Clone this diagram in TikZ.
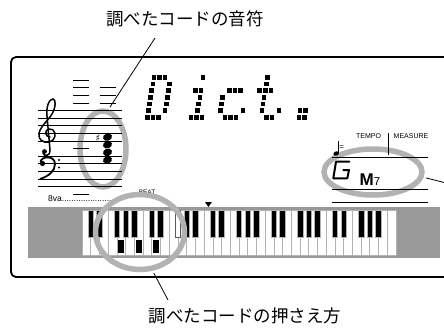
\documentclass[tikz,border=0pt]{standalone}
\usepackage{fontspec}
\setmainfont{Liberation Sans}
\newfontfamily\jpfont{Noto Sans CJK JP}
\newfontfamily\symfont{DejaVu Sans}
\usetikzlibrary{shapes.geometric}
\definecolor{ringgray}{gray}{0.7}
\definecolor{bargray}{gray}{0.6}

\begin{document}
\begin{tikzpicture}[x=1pt,y=-1pt,
  ring/.style={ellipse, draw=ringgray, line width=5.5pt, inner sep=0pt},
  leader/.style={line width=0.8pt},
  staffline/.style={line width=0.7pt},
  tiny/.style={font=\fontsize{7}{7}\selectfont, inner sep=0pt},
  caption/.style={font=\jpfont\fontsize{17.5}{17.5}\selectfont, inner sep=0pt}]
  \useasboundingbox (0,0) rectangle (444,327);
  \clip (0,0) rectangle (444,327);
  \def\wk{8.72}
  \def\dx{5.6}
  \def\dy{6.67}
  \node[caption] (lblNotes) at (185,18.5) {調べたコードの音符};
  \node[caption] (lblKeys) at (245,316) {調べたコードの押さえ方};
  \draw[line width=1.8pt, rounded corners=5pt] (11,57) rectangle (470,277);
  % staff
  \node[ring, minimum width=46pt, minimum height=76pt] (ringNotes) at (103,149) {};
  \foreach \y in {110.5,118.1,125.7,133.3,140.9,156.1,163.7,171.3,178.9,186.5}
    \draw[staffline] (38,\y) -- (122,\y);
  \foreach \y in {80.1,87.7,95.3,102.9,148.5,194.1}
    \draw[staffline] (73,\y) -- ++(16,0);
  \foreach \y in {87.7,95.3,102.9}
    \draw[staffline] (100,\y) -- ++(16,0);
  \draw[line width=1.5pt, line cap=round] (50,137)
    .. controls (45,137) and (44,130) .. (49,129)
    .. controls (55,128) and (57,136) .. (53,140)
    .. controls (49,144) and (40,143) .. (39,136)
    .. controls (38,128) and (48,121) .. (52,114)
    .. controls (56,107) and (56,99) .. (53,99)
    .. controls (49,99) and (46,107) .. (47,116)
    -- (50,150)
    .. controls (51,156) and (44,157) .. (43,153);
  \fill (44.5,151.5) circle[radius=2.4];
  \fill (42.5,163.5) circle[radius=2.6];
  \draw[line width=1.8pt] (40.5,162) .. controls (41,156) and (55,155) .. (55,164)
    .. controls (55,171) and (49,176) .. (40,179);
  \fill (59,160) circle[radius=1.2] (59,167.5) circle[radius=1.2];
  \foreach \y in {137.1,144.7,152.3,159.9}
    \fill[rotate around={20:(107.5,\y)}] (107.5,\y) ellipse[x radius=4.6, y radius=3.7];
  \node[inner sep=0pt, font=\symfont\bfseries\fontsize{9.5}{9.5}\selectfont] (sharpF) at (98,138) {♯};
  % dot matrix text
  \foreach \cx/\pts in {
    145/{0/0,1/0,2/0,0/1,3/1,0/2,3/2,0/3,3/3,0/4,3/4,0/5,3/5,0/6,1/6,2/6},
    183/{2/0,1/2,2/2,2/3,2/4,2/5,1/6,2/6,3/6},
    217/{1/2,2/2,3/2,0/3,0/4,0/5,4/5,1/6,2/6,3/6},
    253/{1/0,1/1,0/2,1/2,2/2,1/3,1/4,1/5,4/5,2/6,3/6},
    291/{1/5,2/5,1/6,2/6}}
    \foreach \i/\j in \pts
      \fill ({\cx+\dx*\i+1.1*(6-\j)},{75+\dy*\j}) rectangle ++(4.5,4.5);
  % tempo / chord window
  \node[ring, minimum width=98pt, minimum height=46pt] (ringTempo) at (373,172) {};
  \node[tiny] (tempo) at (368.5,136) {TEMPO};
  \node[tiny] (measure) at (411,136) {MEASURE};
  \draw[line width=0.8pt] (388,133) -- (388,155);
  \fill[rotate around={20:(336.2,153.5)}] (336.2,153.5) ellipse[x radius=2.9, y radius=2.1];
  \draw[line width=0.8pt] (338.7,153) -- (338.7,140.5);
  \node[anchor=west, inner sep=0pt, font=\fontsize{8}{8}\selectfont] (tempoEq) at (339.2,147.5) {=};
  \foreach \y in {157,189,202}
    \draw[line width=0.9pt] (332,\y) -- (428,\y);
  \draw[line width=2pt, line cap=round, line join=round]
    (349.3,161.7) -- (336,161.7) -- (333.3,178.3) -- (347.3,178.3) -- (349,170) -- (343.3,170);
  \node[anchor=base west, inner sep=0pt] (chordName) at (359.5,185.5)
    {\bfseries\fontsize{17}{17}\selectfont M\fontsize{11.5}{11.5}\selectfont\mdseries 7};
  % keyboard
  \fill[bargray] (28,207) rectangle (440,258);
  \foreach \k in {0,...,35}
    \draw[fill=white, draw=gray!60, line width=0.6pt] ({82+\k*\wk},210) rectangle ++(\wk,45);
  \foreach \o in {0,...,4}
    \foreach \b in {1,2,4,5,6}
      \draw[fill=black, draw=gray!60, line width=0.6pt] ({82+(\o*7+\b)*\wk-2.8},210) rectangle ++(5.6,27);
  \draw[fill=white, draw=gray!70!black, line width=0.6pt] ({82+11*\wk-2.8},210) rectangle ++(5.6,27);
  \foreach \k in {4,6,8}
    \fill ({82+(\k+0.5)*\wk-3},240) rectangle ++(6,13);
  \fill ({82+14.5*\wk-3.5},202) -- ++(7,0) -- ++(-3.5,5) -- cycle;
  \node[tiny, font=\fontsize{6.5}{6.5}\selectfont] (beat) at (147,192) {BEAT};
  \node[anchor=base west, inner sep=0pt, font=\fontsize{8.5}{8.5}\selectfont] (octave) at (48,201)
    {8va.........................};
  \node[ring, minimum width=89pt, minimum height=75pt] (ringKeys) at (140,232) {};
  % leaders
  \coordinate (tipNotes) at (155,38);
  \coordinate (tipKeys) at (168,300);
  \coordinate (tipTempo) at (452,184.5);
  \draw[leader, shorten >=2.5pt] (tipNotes) -- (ringNotes.82);
  \draw[leader, shorten <=2.5pt] (ringKeys.-72) -- (tipKeys);
  \draw[leader, shorten <=2.5pt] (ringTempo.-6) -- (tipTempo);
\end{tikzpicture}
\end{document}
